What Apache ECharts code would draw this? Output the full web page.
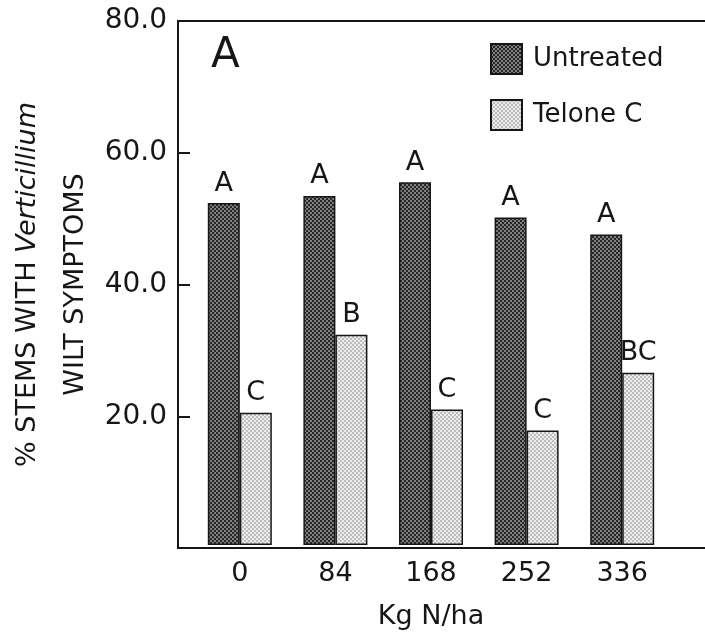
<!DOCTYPE html>
<html>
<head>
<meta charset="utf-8">
<script src="https://cdn.jsdelivr.net/npm/echarts@6/dist/echarts.min.js"></script>
<style>
  html, body { margin: 0; padding: 0; background: #fff; }
  #chart { width: 705px; height: 635px; }
</style>
</head>
<body>
<div id="chart"></div>
<script>
// data
const categories = ['0', '84', '168', '252', '336']
const untreated = [52.2, 53.3, 55.4, 50.0, 47.4]
const telone = [20.2, 32.1, 20.7, 17.5, 26.3]
const untreatedLetters = ['A', 'A', 'A', 'A', 'A']
const teloneLetters = ['C', 'B', 'C', 'C', 'BC']
const yMin = 0
const yMax = 80
const yStep = 20

const font = 'DejaVu Sans'
const ink = '#161616'

// small dotted fill like the printed screen
function makePattern(bg, fg) {
  const c = document.createElement('canvas')
  c.width = 4
  c.height = 4
  const ctx = c.getContext('2d')
  ctx.fillStyle = bg
  ctx.fillRect(0, 0, 4, 4)
  ctx.fillStyle = fg
  ctx.fillRect(0, 0, 2, 2)
  ctx.fillRect(2, 2, 2, 2)
  return { image: c, repeat: 'repeat' }
}

const chart = echarts.init(document.getElementById('chart'))

const option = {
  animation: false,
  backgroundColor: '#fff',
  title: {
    text: 'A',
    left: 206,
    top: 30,
    textStyle: { fontFamily: font, fontSize: 42, fontWeight: 'normal', color: ink },
  },
  legend: {
    orient: 'vertical',
    left: 485,
    top: 38,
    itemWidth: 31,
    itemHeight: 30,
    itemGap: 24,
    icon: 'rect',
    textStyle: { fontFamily: font, fontSize: 26, color: ink, padding: [0, 0, 0, 6] },
    data: ['Untreated', 'Telone C'],
  },
  grid: [
    // frame with the y axis
    { left: 178, right: 0, top: 21, bottom: 87 },
    // bars
    { left: 192, right: 35, top: 21, bottom: 87 },
  ],
  xAxis: [
    {
      gridIndex: 0, type: 'value', min: 0, max: 1, position: 'bottom',
      axisLine: { show: true, lineStyle: { color: ink, width: 2 } },
      axisTick: { show: false }, axisLabel: { show: false }, splitLine: { show: false },
    },
    {
      gridIndex: 0, type: 'value', min: 0, max: 1, position: 'top',
      axisLine: { show: true, lineStyle: { color: ink, width: 2 } },
      axisTick: { show: false }, axisLabel: { show: false }, splitLine: { show: false },
    },
    {
      gridIndex: 1, type: 'category', data: categories,
      axisLine: { show: false }, axisTick: { show: false },
      axisLabel: { fontFamily: font, fontSize: 27, color: ink, margin: 15 },
      name: 'Kg N/ha', nameLocation: 'middle', nameGap: 58,
      nameTextStyle: { fontFamily: font, fontSize: 27, color: ink },
    },
  ],
  yAxis: [
    {
      gridIndex: 0, type: 'value', min: yMin, max: yMax, interval: yStep,
      axisLine: { show: true, lineStyle: { color: ink, width: 2 } },
      axisTick: { show: true, inside: true, length: 12, lineStyle: { color: ink, width: 2 } },
      splitLine: { show: false },
      axisLabel: {
        fontFamily: font, fontSize: 28, color: ink, margin: 11,
        formatter: (v) => (v === 0 ? '' : v.toFixed(1)),
      },
      name: '{a|% STEMS WITH }{i|Verticillium}\n{a|WILT SYMPTOMS}',
      nameLocation: 'middle',
      nameRotate: 90,
      nameGap: 78,
      nameTextStyle: {
        color: ink,
        rich: {
          a: { fontFamily: font, fontSize: 27, color: ink, lineHeight: 48 },
          i: { fontFamily: font, fontSize: 27, color: ink, lineHeight: 48, fontStyle: 'italic' },
        },
      },
    },
    { gridIndex: 1, type: 'value', min: yMin, max: yMax, show: false },
  ],
  series: [
    {
      name: 'Untreated',
      type: 'bar',
      xAxisIndex: 2,
      yAxisIndex: 1,
      data: untreated,
      barWidth: 32,
      barGap: '0%',
      itemStyle: { color: makePattern('#808080', '#262626'), borderColor: ink, borderWidth: 1.5 },
      label: {
        show: true, position: 'top', distance: 6,
        fontFamily: font, fontSize: 27, color: ink,
        formatter: (p) => untreatedLetters[p.dataIndex],
      },
    },
    {
      name: 'Telone C',
      type: 'bar',
      xAxisIndex: 2,
      yAxisIndex: 1,
      data: telone,
      barWidth: 32,
      barGap: '0%',
      itemStyle: { color: makePattern('#ececec', '#bdbdbd'), borderColor: ink, borderWidth: 1.5 },
      label: {
        show: true, position: 'top', distance: 6,
        fontFamily: font, fontSize: 27, color: ink,
        formatter: (p) => teloneLetters[p.dataIndex],
      },
    },
  ],
}

chart.setOption(option)
</script>
</body>
</html>
